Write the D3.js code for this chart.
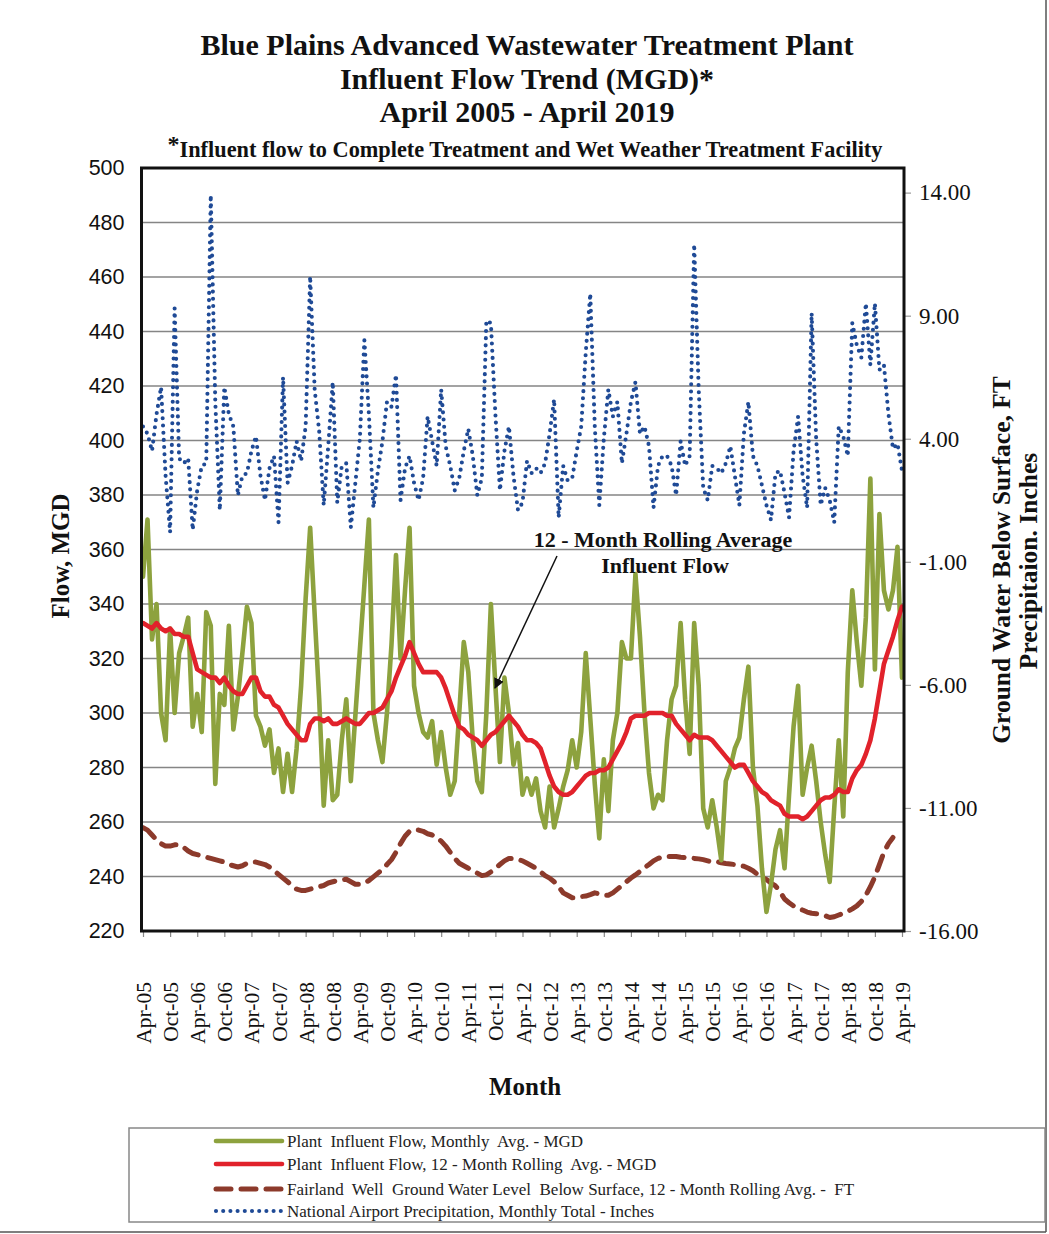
<!DOCTYPE html>
<html><head><meta charset="utf-8">
<script src="https://cdn.jsdelivr.net/npm/d3@7"></script>
<style>
html,body{margin:0;padding:0;background:#fff;}
svg{display:block;}
text{white-space:pre;}
</style></head>
<body>
<svg id="chart" width="1049" height="1234"></svg>
<script>
// ---------- DATA ----------
const startMonth = "2005-04";
const tickLabels = ["Apr-05","Oct-05","Apr-06","Oct-06","Apr-07","Oct-07","Apr-08","Oct-08","Apr-09","Oct-09","Apr-10","Oct-10","Apr-11","Oct-11","Apr-12","Oct-12","Apr-13","Oct-13","Apr-14","Oct-14","Apr-15","Oct-15","Apr-16","Oct-16","Apr-17","Oct-17","Apr-18","Oct-18","Apr-19"];
const leftTicks = [220,240,260,280,300,320,340,360,380,400,420,440,460,480,500];
const rightTicks = [-16,-11,-6,-1,4,9,14];

// Plant influent flow, monthly avg (MGD), Apr-05 .. Apr-19
const flowMonthly = [350,371,327,340,300,290,331,300,322,328,335,295,307,293,337,332,274,307,303,332,
294,306,322,339,333,299,295,288,294,278,287,271,285,271,287,310,342,368,336,305,
266,290,268,270,290,305,275,299,323,347,371,300,290,282,300,325,358,320,345,368,
310,300,293,291,297,281,293,280,270,275,300,326,315,290,275,271,300,340,310,282,
313,300,281,289,270,276,270,276,264,258,273,258,265,273,279,290,280,293,322,298,
274,254,283,264,290,300,326,320,320,351,328,300,278,265,270,268,290,305,310,333,
305,285,333,310,265,258,268,258,246,275,280,287,291,305,317,280,266,243,227,237,
250,257,243,270,295,310,270,280,288,275,260,248,238,265,290,262,315,345,326,310,
335,386,316,373,345,338,345,361,313];

// Plant influent flow, 12-month rolling avg (MGD)
const flowRolling = [333,332,331,333,331,330,331,329,329,328,328,322,316,315,314,313,313,311,313,310,
308,307,307,310,313,313,308,306,306,303,302,299,296,294,292,290,290,296,298,298,
297,298,296,296,297,298,297,296,296,298,300,300,301,302,305,308,313,317,321,326,
322,318,315,315,315,315,313,309,304,299,295,294,292,291,290,288,290,292,293,295,
297,299,297,295,292,290,290,289,287,282,277,273,271,270,270,271,273,275,277,278,
278,279,279,280,283,286,289,293,298,299,299,299,300,300,300,300,299,299,296,294,
292,290,292,291,291,291,290,288,286,284,282,280,281,281,278,275,273,271,270,268,
267,266,263,262,262,262,261,262,264,266,268,269,269,270,272,271,271,276,279,281,
285,290,298,308,318,323,328,334,339];

// Fairland Well ground water level below surface, 12-month rolling avg (FT)
const groundWater = [-11.8,-11.9,-12.1,-12.3,-12.45,-12.55,-12.55,-12.5,-12.5,-12.6,-12.75,-12.85,-12.9,-12.95,-13.0,-13.05,-13.1,-13.15,-13.2,-13.3,
-13.35,-13.4,-13.35,-13.25,-13.2,-13.2,-13.25,-13.3,-13.4,-13.55,-13.7,-13.85,-14.0,-14.15,-14.3,-14.35,-14.35,-14.3,-14.25,-14.2,
-14.15,-14.05,-14.0,-13.95,-13.92,-13.9,-14.0,-14.1,-14.1,-14.05,-13.95,-13.8,-13.65,-13.5,-13.3,-13.1,-12.8,-12.45,-12.15,-11.95,
-11.88,-11.9,-11.95,-12.05,-12.1,-12.2,-12.35,-12.55,-12.8,-13.05,-13.25,-13.35,-13.45,-13.55,-13.65,-13.75,-13.72,-13.6,-13.45,-13.3,
-13.15,-13.05,-13.05,-13.1,-13.15,-13.25,-13.35,-13.45,-13.6,-13.75,-13.85,-14.0,-14.2,-14.45,-14.55,-14.65,-14.65,-14.6,-14.58,-14.52,
-14.45,-14.5,-14.55,-14.55,-14.45,-14.3,-14.15,-14.0,-13.85,-13.72,-13.58,-13.43,-13.3,-13.15,-13.05,-13.0,-12.97,-12.97,-12.97,-13.0,
-13.02,-13.03,-13.05,-13.07,-13.1,-13.15,-13.2,-13.18,-13.23,-13.26,-13.28,-13.3,-13.33,-13.37,-13.45,-13.55,-13.7,-13.82,-13.91,-14.05,
-14.17,-14.4,-14.7,-14.85,-14.98,-15.06,-15.15,-15.23,-15.28,-15.3,-15.32,-15.38,-15.45,-15.42,-15.35,-15.28,-15.2,-15.1,-14.98,-14.8,
-14.55,-14.2,-13.8,-13.3,-12.8,-12.45,-12.2];

// National Airport precipitation, monthly total (inches)
const precip = [4.5,4.2,3.5,5.0,6.1,2.5,0.2,9.3,3.2,3.0,3.2,0.3,1.9,2.9,3.0,13.9,5.5,1.1,6.1,5.0,
4.5,1.7,2.5,2.6,3.5,4.1,2.5,1.5,2.8,3.3,0.6,6.5,2.2,2.9,3.9,3.1,4.5,10.6,6.0,4.3,
1.3,3.7,6.3,1.4,2.9,3.0,0.4,2.2,4.0,8.0,5.0,1.2,2.7,3.9,5.5,5.3,6.6,1.5,2.8,3.3,
2.2,1.5,2.4,4.9,3.9,2.9,6.0,3.7,2.9,1.9,2.4,3.5,4.4,3.3,1.7,2.4,8.8,8.7,5.0,1.9,
3.5,4.5,2.5,1.1,1.4,3.1,2.6,2.8,2.6,3.0,4.2,5.6,0.8,2.9,2.3,2.4,3.5,4.5,7.5,9.9,
4.5,1.3,4.0,6.0,4.9,5.5,3.0,4.2,5.5,6.3,4.2,4.5,3.7,1.2,2.9,3.3,3.3,2.9,1.7,3.9,
2.9,3.3,11.9,6.0,2.0,1.5,2.9,2.8,2.6,3.0,3.7,2.5,1.3,4.2,5.5,3.3,2.9,2.1,1.3,0.7,
2.6,2.7,1.8,0.8,3.5,4.9,2.5,1.2,9.1,4.0,1.3,2.0,1.5,0.6,4.5,4.1,3.3,8.7,7.8,7.3,
9.5,7.0,9.5,6.8,7.0,5.0,3.6,3.8,2.7];

const legendItems = [
  {key:"monthly", label:"Plant  Influent Flow, Monthly  Avg. - MGD"},
  {key:"rolling", label:"Plant  Influent Flow, 12 - Month Rolling  Avg. - MGD"},
  {key:"ground",  label:"Fairland  Well  Ground Water Level  Below Surface, 12 - Month Rolling Avg. -  FT"},
  {key:"precip",  label:"National Airport Precipitation, Monthly Total - Inches"}
];

// ---------- CHART ----------
const styles = {
  monthly:{color:"#8DA23E", width:4.6, dash:null, cap:"round"},
  rolling:{color:"#E1222B", width:4.6, dash:null, cap:"round"},
  ground: {color:"#8C3A2B", width:5, dash:"15,10", cap:"round"},
  precip: {color:"#1F4A96", width:4.1, dash:"0,7.2", cap:"round"}
};

const [y0str,m0str] = startMonth.split("-");
const months = d3.timeMonth.range(new Date(+y0str, +m0str-1, 1), new Date(+y0str, +m0str-1+flowMonthly.length, 1))
  .map(d3.timeFormat("%b-%y"));

const svg = d3.select("#chart");
const L = 141.5, R = 904, T = 168, B = 931;

const x = d3.scalePoint().domain(months).range([143, 902]);
const yL = d3.scaleLinear().domain([220,500]).range([B,T]);
const yR = d3.scaleLinear().domain([-16,15]).range([B,T]);

// outer frame
svg.append("line").attr("x1",1046).attr("x2",1046).attr("y1",0).attr("y2",1232).attr("stroke","#555").attr("stroke-width",1.5);
svg.append("line").attr("x1",0).attr("x2",1046).attr("y1",1232).attr("y2",1232).attr("stroke","#555").attr("stroke-width",1.5);

// titles
const serif = "'Liberation Serif','Times New Roman',serif";
const titles = [
  {t:"Blue Plains Advanced Wastewater Treatment Plant", y:55, s:30},
  {t:"Influent Flow Trend (MGD)*", y:89, s:30},
  {t:"April 2005 - April 2019", y:122, s:30}
];
titles.forEach(o=>svg.append("text").attr("x",527).attr("y",o.y).attr("text-anchor","middle")
  .attr("font-family",serif).attr("font-weight","bold").attr("font-size",o.s).attr("fill","#111").text(o.t));
const sub = svg.append("text").attr("x",525).attr("y",157).attr("text-anchor","middle")
  .attr("font-family",serif).attr("font-weight","bold").attr("font-size",22.3).attr("fill","#111");
sub.append("tspan").attr("dy",-5).attr("font-size",24).text("*");
sub.append("tspan").attr("dy",5).text("Influent flow to Complete Treatment and Wet Weather Treatment Facility");

// gridlines
svg.append("g").selectAll("line").data(leftTicks.filter(d=>d>220&&d<500)).join("line")
  .attr("x1",L).attr("x2",R).attr("y1",d=>yL(d)).attr("y2",d=>yL(d))
  .attr("stroke","#858585").attr("stroke-width",1.6);

// left axis
const gL = svg.append("g").attr("transform",`translate(${L},0)`)
  .call(d3.axisLeft(yL).tickValues(leftTicks).tickSize(0).tickPadding(17));
gL.select(".domain").remove();
gL.selectAll("text").attr("font-family","'Liberation Sans',Arial,sans-serif").attr("font-size",21.5).attr("fill","#111");

// right axis
const gR = svg.append("g").attr("transform",`translate(${R},0)`)
  .call(d3.axisRight(yR).tickValues(rightTicks).tickSize(7).tickPadding(8).tickFormat(d=>d.toFixed(2)));
gR.select(".domain").remove();
gR.selectAll("line").attr("stroke","#999").attr("stroke-width",1.2);
gR.selectAll("text").attr("font-family",serif).attr("font-size",23).attr("fill","#111");

// bottom ticks + labels
const tickMonths = months.filter((m,i)=>i%6===0);
const gX = svg.append("g").attr("transform",`translate(0,${B})`)
  .call(d3.axisBottom(x).tickValues(tickMonths).tickSize(6).tickFormat((d,i)=>tickLabels[i]));
gX.select(".domain").remove();
gX.selectAll("line").attr("stroke","#888").attr("stroke-width",1.2);
gX.selectAll("text").attr("font-family",serif).attr("font-size",21.5).attr("fill","#111")
  .attr("text-anchor","end").attr("transform","rotate(-90)")
  .attr("x",-51).attr("y",0).attr("dy","0.35em");

// series
const lineL = d3.line().x((d,i)=>x(months[i])).y(d=>yL(d)).defined(d=>d!=null);
const lineR = d3.line().x((d,i)=>x(months[i])).y(d=>yR(d)).defined(d=>d!=null);
function draw(data, gen, st){
  svg.append("path").datum(data).attr("d",gen).attr("fill","none")
    .attr("stroke",st.color).attr("stroke-width",st.width).attr("stroke-linejoin","round")
    .attr("stroke-linecap",st.cap).attr("stroke-dasharray",st.dash);
}
draw(precip, lineR, styles.precip);
draw(groundWater, lineR, styles.ground);
draw(flowMonthly, lineL, styles.monthly);
draw(flowRolling, lineL, styles.rolling);

// plot frame
svg.append("rect").attr("x",L).attr("y",T).attr("width",R-L).attr("height",B-T)
  .attr("fill","none").attr("stroke","#111").attr("stroke-width",3);

// axis titles
svg.append("text").attr("transform","translate(69,556) rotate(-90)").attr("text-anchor","middle")
  .attr("font-family",serif).attr("font-weight","bold").attr("font-size",25).attr("fill","#111").text("Flow, MGD");
svg.append("text").attr("transform","translate(1010,560) rotate(-90)").attr("text-anchor","middle")
  .attr("font-family",serif).attr("font-weight","bold").attr("font-size",25.5).attr("fill","#111").text("Ground Water Below Surface, FT");
svg.append("text").attr("transform","translate(1037,561) rotate(-90)").attr("text-anchor","middle")
  .attr("font-family",serif).attr("font-weight","bold").attr("font-size",25.5).attr("fill","#111").text("Precipitaion. Inches");
svg.append("text").attr("x",525).attr("y",1095).attr("text-anchor","middle")
  .attr("font-family",serif).attr("font-weight","bold").attr("font-size",25).attr("fill","#111").text("Month");

// annotation
svg.append("defs").append("marker").attr("id","ah").attr("viewBox","0 0 10 10").attr("refX",9).attr("refY",5)
  .attr("markerWidth",7).attr("markerHeight",7).attr("orient","auto")
  .append("path").attr("d","M0,0 L10,5 L0,10 z").attr("fill","#111");
svg.append("line").attr("x1",557).attr("y1",556).attr("x2",495).attr("y2",688)
  .attr("stroke","#111").attr("stroke-width",1.5).attr("marker-end","url(#ah)");
svg.append("text").attr("x",663).attr("y",547).attr("text-anchor","middle")
  .attr("font-family",serif).attr("font-weight","bold").attr("font-size",22).attr("fill","#111").text("12 - Month Rolling Average");
svg.append("text").attr("x",665).attr("y",573).attr("text-anchor","middle")
  .attr("font-family",serif).attr("font-weight","bold").attr("font-size",22).attr("fill","#111").text("Influent Flow");

// legend
const lg = svg.append("g");
lg.append("rect").attr("x",129).attr("y",1128).attr("width",916).attr("height",94)
  .attr("fill","none").attr("stroke","#888").attr("stroke-width",1.5);
const rowsY = [1141,1164,1189,1211];
legendItems.forEach((it,k)=>{
  const st = styles[it.key];
  lg.append("line").attr("x1",216).attr("x2",282).attr("y1",rowsY[k]).attr("y2",rowsY[k])
    .attr("stroke",st.color).attr("stroke-width",st.width).attr("stroke-linecap",st.cap)
    .attr("stroke-dasharray",st.dash);
  lg.append("text").attr("x",287).attr("y",rowsY[k]+6).attr("font-family",serif)
    .attr("font-size",17).attr("fill","#222").text(it.label);
});
</script>
</body></html>
